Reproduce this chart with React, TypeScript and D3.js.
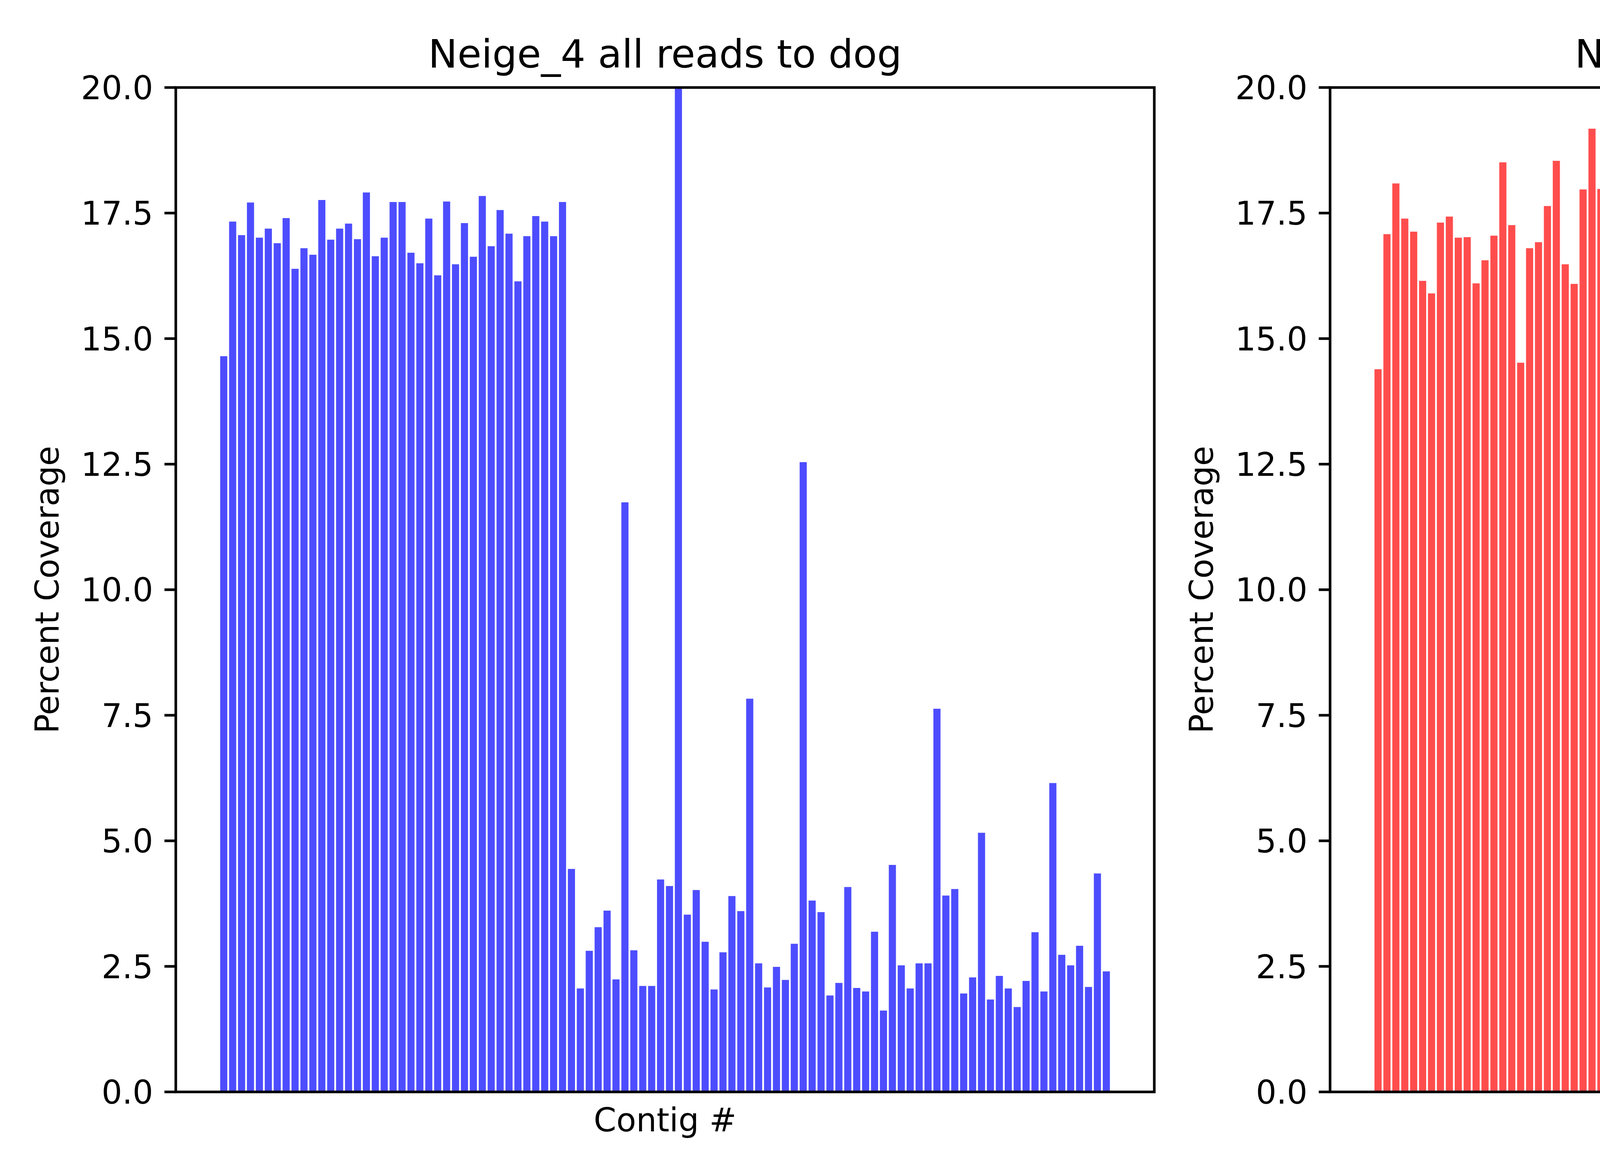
import * as d3 from "d3";

const W = 6000;
const H = 3000;

const dogValues = [
  14.65, 17.33, 17.06, 17.71, 17.01, 17.19, 16.9, 17.4, 16.39, 16.8,
  16.67, 17.76, 16.97, 17.19, 17.29, 16.98, 17.91, 16.64, 17.01, 17.72,
  17.72, 16.71, 16.5, 17.39, 16.26, 17.73, 16.48, 17.3, 16.63, 17.84,
  16.84, 17.56, 17.09, 16.14, 17.04, 17.44, 17.33, 17.04, 17.72, 4.44,
  2.06, 2.81, 3.28, 3.61, 2.24, 11.74, 2.82, 2.11, 2.11, 4.23,
  4.1, 20.5, 3.53, 4.02, 2.99, 2.04, 2.78, 3.9, 3.6, 7.83,
  2.56, 2.08, 2.49, 2.23, 2.95, 12.54, 3.81, 3.58, 1.92, 2.17,
  4.08, 2.07, 2.0, 3.19, 1.62, 4.52, 2.52, 2.06, 2.56, 2.56,
  7.63, 3.91, 4.04, 1.96, 2.28, 5.16, 1.84, 2.31, 2.06, 1.69,
  2.21, 3.18, 2.0, 6.15, 2.73, 2.52, 2.91, 2.09, 4.35, 2.4,
];

const bearValues = [
  14.39, 17.08, 18.09, 17.39, 17.13, 16.15, 15.9, 17.31, 17.43, 17.01,
  17.02, 16.1, 16.56, 17.05, 18.51, 17.26, 14.52, 16.8, 16.92, 17.64,
  18.54, 16.48, 16.09, 17.97, 19.18, 17.98, 16.64, 16.67, 18.17, 16.19,
  16.28, 16.46, 15.59, 19.06, 18.58, 4.47, 15.11, 16.39, 0.96, 6.18,
  0.82, 0.14, 0.34, 0.45, 0.4, 0.3, 0.69, 2.99, 0.13, 6.18,
  4.26, 0.18, 0.03, 12.9, 1.0, 8.21, 9.83, 16.27, 12.08, 0.83,
  10.71, 3.79, 20.5, 5.11, 2.6, 12.91, 1.24, 9.22, 0.28, 12.45,
  6.22, 6.79, 0.02, 4.53, 12.56, 9.58, 0.55, 0.29, 8.6, 0.0,
  10.94, 1.95, 20.5, 8.04, 6.43, 4.84, 10.7, 10.29, 2.07, 7.92,
  0.03, 0.2, 1.84, 14.12, 5.02, 2.35, 12.77, 16.42, 1.38, 10.76,
];

const yTicks = [0, 2.5, 5, 7.5, 10, 12.5, 15, 17.5, 20];

const panels = [
  { title: "Neige_4 all reads to dog", values: dogValues, color: "#4d4dff", left: 450 },
  { title: "Neige_4 all reads to bear", values: bearValues, color: "#ff4d4d", left: 3405 },
];

const axW = 2505;
const top = 224;
const bottom = 2795;
const font = "DejaVu Sans, sans-serif";
const lw = 6.7;

function Panel({ p, i }: { p: (typeof panels)[number]; i: number }) {
  const n = p.values.length;
  const x = d3.scaleLinear().domain([-0.4 - 0.0499 * (n - 0.2), n - 0.6 + 0.0499 * (n - 0.2)]).range([0, axW]);
  const y = d3.scaleLinear().domain([0, 20]).range([bottom - top, 0]);
  const bw = x(0.4) - x(-0.4);
  return (
    <g transform={`translate(${p.left},${top})`}>
      <defs>
        <clipPath id={`clip${i}`}>
          <rect x={0} y={0} width={axW} height={bottom - top} />
        </clipPath>
      </defs>
      <g clipPath={`url(#clip${i})`}>
        {p.values.map((v, j) => (
          <rect key={j} x={x(j - 0.4)} y={y(v)} width={bw} height={y(0) - y(v)} fill={p.color} />
        ))}
      </g>
      <rect x={0} y={0} width={axW} height={bottom - top} fill="none" stroke="#000" strokeWidth={lw} />
      {yTicks.map((t) => (
        <g key={t} transform={`translate(0,${y(t)})`}>
          <line x1={-29} x2={0} stroke="#000" strokeWidth={lw} />
          <text x={-58} dy="0.36em" textAnchor="end" fontSize={83} fontFamily={font}>
            {t.toFixed(1)}
          </text>
        </g>
      ))}
      <text
        transform={`translate(${-300},${(bottom - top) / 2}) rotate(-90)`}
        textAnchor="middle"
        fontSize={83}
        fontFamily={font}
      >
        Percent Coverage
      </text>
      <text x={axW / 2} y={2896 - top} textAnchor="middle" fontSize={83} fontFamily={font}>
        Contig #
      </text>
      <text x={axW / 2} y={173 - top} textAnchor="middle" fontSize={100} fontFamily={font}>
        {p.title}
      </text>
    </g>
  );
}

export default function App() {
  return (
    <svg
      width={W}
      height={H}
      viewBox={`0 0 ${W} ${H}`}
      style={{ position: "absolute", left: 0, top: 0, background: "#fff" }}
    >
      <rect width={W} height={H} fill="#fff" />
      {panels.map((p, i) => (
        <Panel key={i} p={p} i={i} />
      ))}
    </svg>
  );
}
